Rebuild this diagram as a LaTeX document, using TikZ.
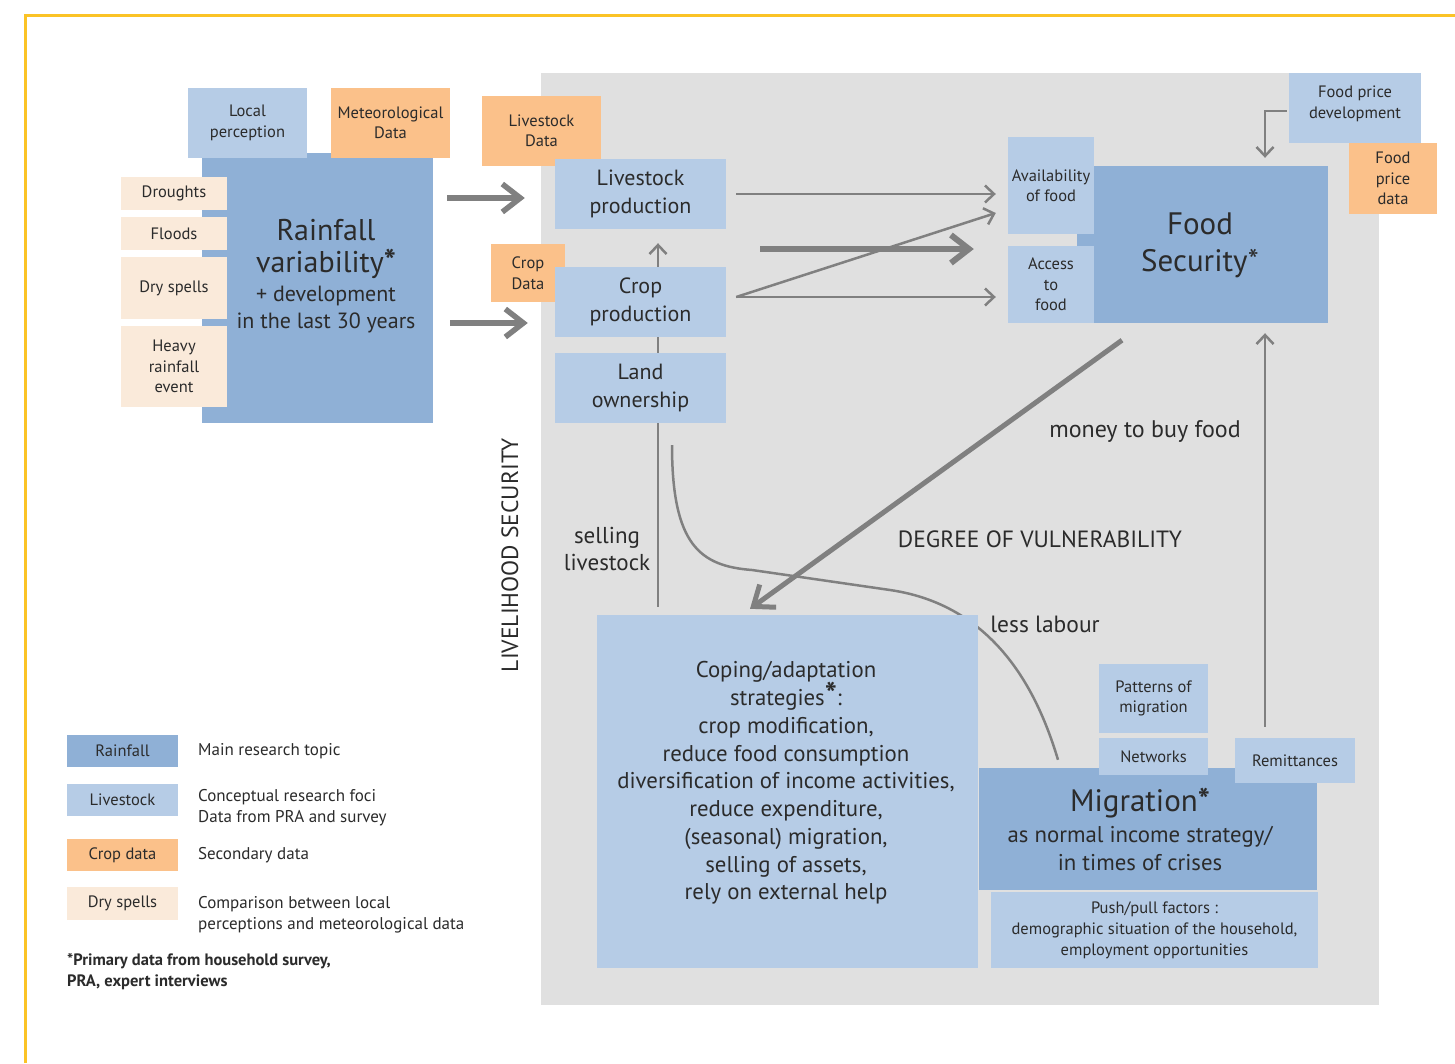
\documentclass[tikz,border=0pt]{standalone}
\usepackage{fontspec}
\setmainfont{PT Sans}
\usetikzlibrary{arrows.meta,calc}
\definecolor{dkb}{HTML}{8FB0D6}
\definecolor{ltb}{HTML}{B6CCE6}
\definecolor{org}{HTML}{FBC18A}
\definecolor{bei}{HTML}{FAEADA}
\definecolor{bgg}{HTML}{E0E0E0}
\definecolor{arr}{HTML}{808080}
\definecolor{txt}{HTML}{2B2B2B}
\definecolor{yel}{HTML}{FBC326}
\pgfdeclarelayer{backmost}
\pgfdeclarelayer{back}
\pgfsetlayers{backmost,back,main}
\newcommand{\myast}{\smash{\fontsize{32}{32}\selectfont\bfseries *}}
\tikzset{
  every node/.style={text=txt, inner sep=0pt, align=center},
  dk/.style={fill=dkb}, lt/.style={fill=ltb}, og/.style={fill=org}, be/.style={fill=bei},
  fsm/.style={font=\fontsize{16.5}{20.5}\selectfont},
  fmd/.style={font=\fontsize{22}{27.5}\selectfont},
  flg/.style={font=\fontsize{30}{34}\selectfont},
  thinarr/.style={draw=arr, line width=2.5pt, -{Straight Barb[length=9pt,width=17pt]}},
  thickarr/.style={draw=arr, line width=5.5pt, -{Straight Barb[length=18pt,width=28pt]}},
  plainline/.style={draw=arr, line width=2.5pt},
}
\begin{document}
\begin{tikzpicture}[x=1pt,y=-1pt]
\useasboundingbox (0,0) rectangle (1455,1063);
\begin{pgfonlayer}{backmost}
\fill[white] (0,0) rectangle (1455,1063);
\fill[bgg] (541,73) rectangle (1379,1005);
\end{pgfonlayer}
\draw[yel, line width=3pt] (25,1063) -- (25,15) -- (1455,15);

% ---------- Rainfall group ----------
\node[dk, minimum width=231pt, minimum height=270pt] (rain) at (317.5,288) {};
\node[flg, font=\fontsize{30}{32}\selectfont] (raint) at (326,249) {Rainfall\\variability\myast};
\node[fmd, font=\fontsize{22}{27}\selectfont] (rains) at (326,309.5) {+ development\\in the last 30 years};
\node[lt, fsm, minimum width=119pt, minimum height=70pt] (lper) at (247.5,123) {Local\\perception};
\node[og, fsm, minimum width=119pt, minimum height=70pt] (meteo) at (390.5,123) {Meteorological\\Data};
\node[be, fsm, minimum width=106pt, minimum height=33pt] (drou) at (174,193.5) {Droughts};
\node[be, fsm, minimum width=106pt, minimum height=33pt] (flood) at (174,233.5) {Floods};
\node[be, fsm, minimum width=106pt, minimum height=62pt] (dry) at (174,288) {Dry spells};
\node[be, fsm, minimum width=106pt, minimum height=81pt] (heavy) at (174,366.5) {Heavy\\rainfall\\event};

% ---------- livelihood boxes ----------
\node[og, fsm, minimum width=119pt, minimum height=70pt] (lsd) at (541.5,131) {Livestock\\Data};
\node[lt, fmd, minimum width=171pt, minimum height=70pt] (lp) at (640.5,194) {Livestock\\production};
\node[og, fsm, minimum width=74pt, minimum height=58pt] (cd) at (528,273) {Crop\\Data};
\node[lt, fmd, minimum width=171pt, minimum height=70pt] (cp) at (640.5,302) {Crop\\production};
\node[lt, fmd, minimum width=171pt, minimum height=70pt] (lo) at (640.5,388) {Land\\ownership};

% ---------- food security ----------
\node[dk, minimum width=251pt, minimum height=157pt] (fs) at (1202.5,244.5) {};
\node[flg, font=\fontsize{31}{37}\selectfont] (fst) at (1200,245) {Food\\Security*};
\node[lt, fsm, minimum width=86pt, minimum height=97pt] (avail) at (1051,185.5) {Availability\\of food};
\node[lt, fsm, minimum width=86pt, minimum height=77pt] (acc) at (1051,284.5) {Access\\to\\food};
\node[lt, fsm, minimum width=132pt, minimum height=70pt] (fpd) at (1355,108) {};
\node[fsm] at (1355,104) {Food price\\development};
\node[og, fsm, minimum width=88pt, minimum height=71pt] (fpdata) at (1393,178.5) {Food\\price\\data};

% ---------- coping & migration ----------
\node[lt, minimum width=381pt, minimum height=353pt] (cop) at (787.5,791.5) {};
\node[fmd, font=\fontsize{22.8}{27.75}\selectfont] (copt) at (786,783) {Coping/adaptation\\strategies\myast:\\crop modification,\\reduce food consumption\\diversification of income activities,\\reduce expenditure,\\(seasonal) migration,\\selling of assets,\\rely on external help};
\node[dk, minimum width=338pt, minimum height=122pt] (mig) at (1148,829) {};
\node[flg, font=\fontsize{31}{34}\selectfont] (migt) at (1140,804) {Migration\myast};
\node[fmd, font=\fontsize{22.8}{28}\selectfont] (migs) at (1140,849) {as normal income strategy/\\in times of crises};
\node[lt, fsm, minimum width=109pt, minimum height=69pt] (pat) at (1153.5,698.5) {Patterns of\\migration};
\node[lt, fsm, minimum width=109pt, minimum height=37pt] (net) at (1153.5,756.5) {Networks};
\node[lt, fsm, minimum width=120pt, minimum height=45pt] (rem) at (1295,760.5) {Remittances};
\node[lt, fsm, minimum width=327pt, minimum height=76pt, font=\fontsize{16.5}{21}\selectfont] (push) at (1154.5,930) {Push/pull factors :\\demographic situation of the household,\\employment opportunities};

% ---------- connectors behind boxes ----------
\begin{pgfonlayer}{back}
\draw[thinarr] ($(cop.north)+(-129.5,-8)$) -- ($(lp.south)+(17.5,14)$);
\draw[plainline] ($(lo.south)+(31.5,22)$) .. controls (672,545) and (700,566) .. (752,570)
   -- (890,590) .. controls (1000,606) and (1040,700) .. ($(mig.north)+(-90,-8)$);
\end{pgfonlayer}

% ---------- arrows ----------
\draw[thickarr] ($(rain.east|-lp.center)+(14,4)$) -- ($(lp.west)+(-30,4)$);
\draw[thickarr] ($(rain.east|-cp.center)+(17,21)$) -- ($(cp.west)+(-27,21)$);
\draw[thinarr] ($(lp.east)+(10,0)$) -- ($(avail.west|-lp.east)+(-12,0)$);
\draw[thinarr] ($(cp.east)+(10,-5)$) -- ($(acc.west|-cp.east)+(-12,-5)$);
\draw[thinarr] ($(cp.east)+(10,-5)$) -- ($(avail.west)+(-12,27.5)$);
\coordinate (thk) at (760,249);
\draw[thickarr, line width=6pt] (thk) -- ($(acc.west|-thk)+(-34,0)$);
\draw[thinarr] ($(fpd.west)+(-2,3)$) -| ($(fs.north)+(62.5,-8)$);
\draw[thinarr] ($(rem.north)+(-30,-11)$) -- ($(fs.south)+(62.5,10)$);
\draw[thickarr, line width=5pt] ($(fs.south)+(-80.5,17)$) -- ($(cop.north)+(-37.5,-6)$);

% ---------- labels ----------
\node[fmd, font=\fontsize{23}{27.5}\selectfont] (sell) at (607,549) {selling\\livestock};
\node[fmd, font=\fontsize{24}{28}\selectfont] (money) at (1145,431) {money to buy food};
\node[font=\fontsize{23.5}{26}\selectfont] (deg) at (1040,539) {DEGREE OF VULNERABILITY};
\node[fmd, font=\fontsize{23.5}{28}\selectfont] (less) at (1045,624) {less labour};
\node[font=\fontsize{23.5}{26}\selectfont, rotate=90] (liv) at (510,555) {LIVELIHOOD SECURITY};

% ---------- legend ----------
\node[dk, fsm, minimum width=111pt, minimum height=32pt] (l1) at (122.5,751) {Rainfall};
\node[lt, fsm, minimum width=111pt, minimum height=32pt] (l2) at (122.5,800) {Livestock};
\node[og, fsm, minimum width=111pt, minimum height=32pt] (l3) at (122.5,855) {Crop data};
\node[be, fsm, minimum width=111pt, minimum height=33pt] (l4) at (122.5,903.5) {Dry spells};
\node[anchor=west, align=left, font=\fontsize{17}{21}\selectfont] (t1) at (198,751) {Main research topic};
\node[anchor=west, align=left, font=\fontsize{17}{21}\selectfont] (t2) at (198,807.5) {Conceptual research foci\\Data from PRA and survey};
\node[anchor=west, align=left, font=\fontsize{17}{21}\selectfont] (t3) at (198,855) {Secondary data};
\node[anchor=west, align=left, font=\fontsize{17}{21}\selectfont] (t4) at (198,914.5) {Comparison between local\\perceptions and meteorological data};
\node[anchor=west, align=left, font=\bfseries\fontsize{16.5}{21}\selectfont] (foot) at (67,971.5) {*Primary data from household survey,\\PRA, expert interviews};
\end{tikzpicture}
\end{document}
